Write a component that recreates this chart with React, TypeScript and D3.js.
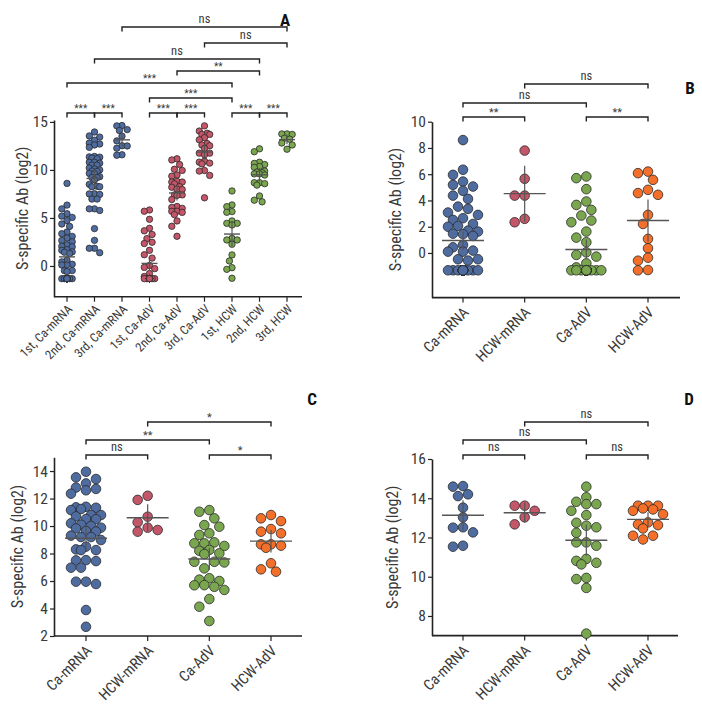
import React, { useEffect, useRef } from 'react';
import * as d3 from 'd3';

const FONT = "'Liberation Sans Narrow','Roboto Condensed','Arial Narrow',Roboto,sans-serif";

const BLUE = '#4f6ca1';
const RED = '#c35668';
const GREEN = '#7aa64f';
const ORANGE = '#f4702a';

// ---------- categories ----------
const catsA = ['1st, Ca-mRNA', '2nd, Ca-mRNA', '3rd, Ca-mRNA', '1st, Ca-AdV', '2nd, Ca-AdV', '3rd, Ca-AdV', '1st, HCW', '2nd, HCW', '3rd, HCW'];
const catsGroup = ['Ca-mRNA', 'HCW-mRNA', 'Ca-AdV', 'HCW-AdV'];

// ---------- values (log2) ----------
const caMRNA1 = [8.6, 6.34, 5.95, 5.44, 5.19, 5.06, 4.73, 4.37, 4.12, 3.53, 3.36, 3.08, 2.9, 2.65, 2.52, 2.21, 2.06, 2.0, 1.7, 1.63, 1.47, 1.43, 1.3, 0.61, 0.43, 0.18, 0.1, 0.1, -0.48, -0.58, -0.48,
  -1.32, -1.32, -1.32, -1.32, -1.32, -1.32, -1.32, -1.32, -1.32, -1.32, -1.32, -1.32, -1.32, -1.32, -1.32, -1.32, -1.32, -1.32, -1.32, -1.32, -1.32, -1.32, -1.32];
const caAdV1 = [5.83, 5.7, 4.86, 3.92, 3.66, 3.28, 2.85, 2.47, 2.34, 1.63, 1.17, 0.82, 0.05, -0.15, -0.28, -0.79, -1.1,
  -1.32, -1.32, -1.32, -1.32, -1.32, -1.32, -1.32, -1.32, -1.32, -1.32, -1.32, -1.32, -1.32, -1.32, -1.32, -1.32, -1.32, -1.32, -1.32, -1.32];
const hcwMRNA1 = [7.8, 5.65, 4.37, 4.37, 2.6, 2.34];
const hcwAdV1 = [6.2, 6.08, 5.57, 4.81, 4.56, 4.43, 2.9, 2.21, 1.07, 0.36, -0.36, -0.59, -1.3, -1.32];
const hcw1 = [7.81, 6.35, 6.18, 5.66, 5.59, 4.69, 4.44, 4.44, 4.27, 2.88, 2.71, 2.71, 2.26, 1.15, 0.52, -0.18, -0.35, -1.28];

const caMRNA2 = [13.95, 13.54, 13.42, 13.1, 12.8, 12.7, 12.6, 12.35, 11.4, 11.36, 11.33, 11.24, 11.16, 10.8, 10.8, 10.7, 10.51, 10.5, 10.2, 10.1, 10.0, 9.88, 9.83, 9.64, 9.6, 9.3, 9.2, 9.2, 8.98, 8.5, 8.3, 8.25, 8.25, 7.52, 7.5, 7.45, 6.97, 6.97, 5.95, 5.95, 5.78, 3.89, 2.67, 1.84, 1.84, 1.38];
const caAdV2 = [11.04, 11.16, 10.56, 10.07, 9.95, 9.47, 9.35, 8.74, 8.81, 8.55, 8.74, 8.01, 8.26, 7.96, 8.2, 7.4, 7.4, 7.35, 6.92, 6.2, 6.1, 6.0, 5.58, 5.7, 5.35, 5.69, 4.69, 4.13, 3.09];
const hcwMRNA2 = [12.2, 11.9, 10.68, 10.27, 9.88, 9.59, 9.71];
const hcwAdV2 = [10.8, 10.56, 10.36, 9.78, 9.59, 9.47, 8.57, 8.67, 8.42, 8.67, 7.29, 6.68, 6.85];

const caMRNA3 = [14.62, 14.59, 14.2, 14.11, 13.52, 13.03, 12.52, 12.5, 12.26, 11.53, 11.58];
const caAdV3 = [14.59, 14.05, 13.82, 13.7, 13.7, 13.36, 13.14, 12.75, 12.6, 12.52, 12.24, 11.75, 11.75, 11.58, 10.81, 10.91, 10.63, 10.71, 9.88, 9.94, 9.43, 7.1];
const hcwMRNA3 = [13.62, 13.62, 13.36, 13.03, 12.67];
const hcwAdV3 = [13.62, 13.62, 13.43, 13.48, 13.36, 13.62, 13.19, 12.77, 12.63, 12.67, 12.46, 12.09, 11.9, 12.09];
const hcw3 = [13.75, 13.7, 13.75, 13.3, 13.2, 12.8, 12.6, 12.16];

// ---------- tick labels ----------
const ticksA = [0, 5, 10, 15];
const ticksB = [0, 2, 4, 6, 8, 10];
const ticksC = [2, 4, 6, 8, 10, 12, 14];
const ticksD = [8, 10, 12, 14, 16];

// ---------- significance brackets ----------
const bracketsA = [
  { a: 0, b: 1, level: 0, label: '***' }, { a: 1, b: 2, level: 0, label: '***' },
  { a: 3, b: 4, level: 0, label: '***' }, { a: 4, b: 5, level: 0, label: '***' },
  { a: 6, b: 7, level: 0, label: '***' }, { a: 7, b: 8, level: 0, label: '***' },
  { a: 3, b: 6, level: 1, label: '***' }, { a: 0, b: 6, level: 2, label: '***' },
  { a: 4, b: 7, level: 3, label: '**' }, { a: 1, b: 7, level: 4, label: 'ns' },
  { a: 5, b: 8, level: 5, label: 'ns' }, { a: 2, b: 8, level: 6, label: 'ns' },
];
const bracketsB = [
  { a: 0, b: 1, level: 0, label: '**' }, { a: 2, b: 3, level: 0, label: '**' },
  { a: 0, b: 2, level: 1, label: 'ns' }, { a: 1, b: 3, level: 2, label: 'ns' },
];
const bracketsC = [
  { a: 0, b: 1, level: 0, label: 'ns' }, { a: 2, b: 3, level: 0, label: '*' },
  { a: 0, b: 2, level: 1, label: '**' }, { a: 1, b: 3, level: 2, label: '*' },
];
const bracketsD = [
  { a: 0, b: 1, level: 0, label: 'ns' }, { a: 2, b: 3, level: 0, label: 'ns' },
  { a: 0, b: 2, level: 1, label: 'ns' }, { a: 1, b: 3, level: 2, label: 'ns' },
];

const tTable: [number, number][] = [[1, 12.71], [2, 4.3], [3, 3.18], [4, 2.78], [5, 2.57], [6, 2.45], [7, 2.36], [8, 2.31], [9, 2.26], [10, 2.23], [12, 2.18], [15, 2.13], [20, 2.09], [30, 2.04], [60, 2.0], [1000, 1.96]];
function tq(df: number) {
  for (const [d, t] of tTable) if (df <= d) return t;
  return 1.96;
}

function swarm(vals: number[], y: (v: number) => number, r: number, step: number, maxOff: number) {
  const pts = vals.map((v) => ({ v, py: y(v), dx: 0 })).sort((a, b) => a.py - b.py);
  const cands = [0];
  for (let k = 1; k * step <= maxOff + 0.01; k++) cands.push(-k * step, k * step);
  const placed: { py: number; dx: number }[] = [];
  for (const p of pts) {
    let best = 0, bestD = -1;
    for (const c of cands) {
      let md = Infinity;
      for (const q of placed) md = Math.min(md, Math.hypot(c - q.dx, p.py - q.py));
      if (md >= 2 * r * 0.97) { best = c; bestD = Infinity; break; }
      if (md > bestD) { bestD = md; best = c; }
    }
    p.dx = best;
    placed.push(p);
  }
  return pts;
}

type PanelCfg = {
  cats: string[];
  groups: { vals: number[]; color: string }[];
  axisX: number; axisEnd: number; xRange: [number, number];
  yDomain: [number, number]; yRange: [number, number]; ticks: number[];
  r: number; step: number; maxOff: number; halfW: number;
  brackets: { a: number; b: number; level: number; label: string }[];
  levelY: number[];
  letter: string; letterPos: [number, number];
  labelX: number;
  starSize: number;
  xLabelSize: number; xLabelDy: number;
};

const panels: PanelCfg[] = [
  {
    cats: catsA,
    groups: [
      { vals: caMRNA1, color: BLUE }, { vals: caMRNA2, color: BLUE }, { vals: caMRNA3, color: BLUE },
      { vals: caAdV1, color: RED }, { vals: caAdV2, color: RED }, { vals: caAdV3, color: RED },
      { vals: hcw1, color: GREEN }, { vals: hcwMRNA2.concat(hcwAdV2), color: GREEN }, { vals: hcw3, color: GREEN },
    ],
    axisX: 54, axisEnd: 302, xRange: [67, 287],
    yDomain: [-3.2, 15.2], yRange: [296.7, 120], ticks: ticksA,
    r: 3.2, step: 2.6, maxOff: 6, halfW: 8,
    brackets: bracketsA, levelY: [113, 98, 83, 71, 59, 43, 27],
    letter: 'A', letterPos: [285, 26], labelX: 22, starSize: 10,
    xLabelSize: 12.5, xLabelDy: 10,
  },
  {
    cats: catsGroup,
    groups: [
      { vals: caMRNA1, color: BLUE }, { vals: hcwMRNA1, color: RED },
      { vals: caAdV1, color: GREEN }, { vals: hcwAdV1, color: ORANGE },
    ],
    axisX: 432, axisEnd: 680, xRange: [463, 648],
    yDomain: [-3.4, 10], yRange: [297.6, 121.7], ticks: ticksB,
    r: 4.8, step: 5, maxOff: 15, halfW: 21,
    brackets: bracketsB, levelY: [117, 103, 84],
    letter: 'B', letterPos: [690, 94], labelX: 395, starSize: 11,
    xLabelSize: 15, xLabelDy: 12,
  },
  {
    cats: catsGroup,
    groups: [
      { vals: caMRNA2, color: BLUE }, { vals: hcwMRNA2, color: RED },
      { vals: caAdV2, color: GREEN }, { vals: hcwAdV2, color: ORANGE },
    ],
    axisX: 54, axisEnd: 302, xRange: [86, 271],
    yDomain: [2, 15], yRange: [636, 457.3], ticks: ticksC,
    r: 4.8, step: 5, maxOff: 15, halfW: 21,
    brackets: bracketsC, levelY: [455, 440, 422],
    letter: 'C', letterPos: [312, 405], labelX: 17, starSize: 11,
    xLabelSize: 15, xLabelDy: 12,
  },
  {
    cats: catsGroup,
    groups: [
      { vals: caMRNA3, color: BLUE }, { vals: hcwMRNA3, color: RED },
      { vals: caAdV3, color: GREEN }, { vals: hcwAdV3, color: ORANGE },
    ],
    axisX: 432, axisEnd: 678, xRange: [463, 648],
    yDomain: [7, 16], yRange: [635.6, 459], ticks: ticksD,
    r: 4.8, step: 5, maxOff: 15, halfW: 21,
    brackets: bracketsD, levelY: [455, 440, 422],
    letter: 'D', letterPos: [689, 405], labelX: 392, starSize: 11,
    xLabelSize: 15, xLabelDy: 12,
  },
];

function drawPanel(svg: d3.Selection<SVGSVGElement, unknown, null, undefined>, cfg: PanelCfg) {
  const g = svg.append('g');
  const y = d3.scaleLinear().domain(cfg.yDomain).range(cfg.yRange);
  const x = d3.scalePoint<string>().domain(cfg.cats).range(cfg.xRange);
  const axisY = cfg.yRange[0];

  // y axis
  const yAxis = d3.axisLeft(y).tickValues(cfg.ticks).tickSize(4).tickSizeOuter(0).tickFormat(d3.format('d'));
  const ya = g.append('g').attr('transform', `translate(${cfg.axisX},0)`).call(yAxis);
  ya.select('.domain').attr('stroke', '#222').attr('stroke-width', 1.6);
  ya.selectAll('.tick line').attr('stroke', '#222').attr('stroke-width', 1.2);
  ya.selectAll('.tick text').attr('font-family', FONT).attr('font-size', 15.5).attr('fill', '#3a3a3a').attr('x', -6);

  // x axis
  g.append('line').attr('x1', cfg.axisX).attr('x2', cfg.axisEnd).attr('y1', axisY).attr('y2', axisY)
    .attr('stroke', '#222').attr('stroke-width', 1.6);
  cfg.cats.forEach((c) => {
    const cx = x(c)!;
    g.append('line').attr('x1', cx).attr('x2', cx).attr('y1', axisY).attr('y2', axisY + 5)
      .attr('stroke', '#222').attr('stroke-width', 1.2);
    g.append('text').attr('transform', `translate(${cx + 3},${axisY + cfg.xLabelDy}) rotate(-45)`)
      .attr('text-anchor', 'end').attr('dy', '0.35em')
      .attr('font-family', FONT).attr('font-size', cfg.xLabelSize).attr('fill', '#3a3a3a').text(c);
  });

  // y label
  const midY = (cfg.yRange[0] + cfg.yRange[1]) / 2;
  g.append('text').attr('transform', `translate(${cfg.labelX},${midY}) rotate(-90)`)
    .attr('text-anchor', 'middle').attr('dy', '0.35em')
    .attr('font-family', FONT).attr('font-size', 16).attr('fill', '#3a3a3a').text('S-specific Ab (log2)');

  // points + stats
  cfg.groups.forEach((grp, i) => {
    const cx = x(cfg.cats[i])!;
    const shown = grp.vals.filter((v) => v >= cfg.yDomain[0]);
    const pts = swarm(shown, y, cfg.r, cfg.step, cfg.maxOff);
    g.append('g').selectAll('circle').data(pts).join('circle')
      .attr('cx', (d) => cx + d.dx).attr('cy', (d) => d.py).attr('r', cfg.r)
      .attr('fill', grp.color).attr('stroke', '#2a2a2a').attr('stroke-width', 0.8);
    const n = grp.vals.length;
    const mean = d3.mean(grp.vals)!;
    const sd = d3.deviation(grp.vals) || 0;
    const half = tq(n - 1) * sd / Math.sqrt(n);
    g.append('line').attr('x1', cx).attr('x2', cx).attr('y1', y(mean + half)).attr('y2', y(mean - half))
      .attr('stroke', '#555').attr('stroke-width', 1.2);
    g.append('line').attr('x1', cx - cfg.halfW).attr('x2', cx + cfg.halfW).attr('y1', y(mean)).attr('y2', y(mean))
      .attr('stroke', '#555').attr('stroke-width', 1.4);
  });

  // brackets
  cfg.brackets.forEach((b) => {
    const x1 = x(cfg.cats[b.a])!;
    const x2 = x(cfg.cats[b.b])!;
    const by = cfg.levelY[b.level];
    g.append('path').attr('d', `M${x1},${by + 4.5}V${by}H${x2}V${by + 4.5}`)
      .attr('fill', 'none').attr('stroke', '#222').attr('stroke-width', 1.4);
    const isStar = b.label.includes('*');
    g.append('text').attr('x', (x1 + x2) / 2).attr('y', isStar ? by - 1 : by - 4)
      .attr('text-anchor', 'middle').attr('font-family', FONT)
      .attr('font-size', isStar ? cfg.starSize : 12.5).attr('fill', '#3a3a3a').text(b.label);
  });

  // panel letter
  g.append('text').attr('x', cfg.letterPos[0]).attr('y', cfg.letterPos[1])
    .attr('text-anchor', 'middle').attr('font-family', "'Liberation Sans Narrow','Roboto Condensed',Roboto,sans-serif")
    .attr('font-weight', 'bold').attr('font-size', 17).attr('fill', '#111').text(cfg.letter);
}

export default function App() {
  const ref = useRef<SVGSVGElement>(null);
  useEffect(() => {
    if (!ref.current) return;
    const svg = d3.select(ref.current);
    svg.selectAll('*').remove();
    svg.append('rect').attr('width', 702).attr('height', 709).attr('fill', '#fff');
    panels.forEach((p) => drawPanel(svg, p));
  }, []);
  return (
    <div style={{ position: 'absolute', left: 0, top: 0 }}>
      <svg ref={ref} width={702} height={709} style={{ display: 'block' }} />
    </div>
  );
}
